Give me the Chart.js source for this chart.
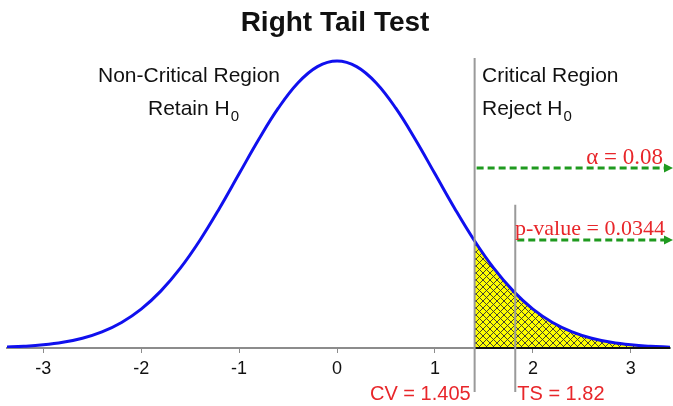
<!DOCTYPE html>
<html>
<head>
<meta charset="utf-8">
<title>Right Tail Test</title>
<script src="https://cdn.jsdelivr.net/npm/chart.js@4"></script>
<style>
  html, body { margin: 0; padding: 0; background: #fff; }
  #wrap { width: 673px; height: 406px; }
</style>
</head>
<body>
<div id="wrap"><canvas id="tailChart"></canvas></div>
<script>
// values
const xTicks = [-3, -2, -1, 0, 1, 2, 3];
const curveX = [-3.4, -3.2, -3.0, -2.8, -2.6, -2.4, -2.2, -2.0, -1.8, -1.6, -1.4, -1.2, -1.0, -0.8, -0.6, -0.4, -0.2,
    0, 0.2, 0.4, 0.6, 0.8, 1.0, 1.2, 1.4, 1.6, 1.8, 2.0, 2.2, 2.4, 2.6, 2.8, 3.0, 3.2, 3.4];
const curveY = [0.0012, 0.0024, 0.0044, 0.0079, 0.0136, 0.0224, 0.0355, 0.0540, 0.0790, 0.1109, 0.1497, 0.1942,
    0.2420, 0.2897, 0.3332, 0.3683, 0.3910, 0.3989, 0.3910, 0.3683, 0.3332, 0.2897, 0.2420, 0.1942, 0.1497,
    0.1109, 0.0790, 0.0540, 0.0355, 0.0224, 0.0136, 0.0079, 0.0044, 0.0024, 0.0012];
const tailX = [1.405, 1.6, 1.8, 2.0, 2.2, 2.4, 2.6, 2.8, 3.0, 3.2, 3.4];
const tailY = [0.1487, 0.1109, 0.0790, 0.0540, 0.0355, 0.0224, 0.0136, 0.0079, 0.0044, 0.0024, 0.0012];

const CV = 1.405;
const TS = 1.82;
const ALPHA = 0.08;
const PVALUE = 0.0344;
// heights (in density units) of the marker lines and arrows
const cvLineTop = 0.403;
const tsLineTop = 0.199;
const alphaArrowY = 0.25;
const pArrowY = 0.15;

const SANS = "'Liberation Sans', Arial, sans-serif";
const SERIF = "'Liberation Serif', 'Times New Roman', serif";
const RED = '#e8262a';
const GREEN = '#1f9a1f';

function makeHatch() {
    const c = document.createElement('canvas');
    c.width = 7;
    c.height = 7;
    const g = c.getContext('2d');
    g.fillStyle = '#ffff00';
    g.fillRect(0, 0, 7, 7);
    g.strokeStyle = '#333';
    g.lineWidth = 0.9;
    g.beginPath();
    g.moveTo(0, 0); g.lineTo(7, 7);
    g.moveTo(7, 0); g.lineTo(0, 7);
    g.stroke();
    return g.createPattern(c, 'repeat');
}

function toPoints(xs, ys) {
    return xs.map((x, i) => ({ x, y: ys[i] }));
}

function drawSubLabel(ctx, text, sub, x, y) {
    ctx.textAlign = 'left';
    ctx.textBaseline = 'alphabetic';
    ctx.font = '21px ' + SANS;
    ctx.fillText(text, x, y);
    const w = ctx.measureText(text).width;
    ctx.font = '15px ' + SANS;
    ctx.fillText(sub, x + w + 1, y + 6);
}

const annotations = {
    id: 'annotations',
    afterDatasetsDraw(chart) {
        const { ctx, scales: { x, y } } = chart;
        const base = y.getPixelForValue(0);
        ctx.save();

        // bottom edge of the shaded tail
        ctx.strokeStyle = '#111';
        ctx.lineWidth = 2;
        ctx.beginPath();
        ctx.moveTo(x.getPixelForValue(CV), base);
        ctx.lineTo(x.right, base);
        ctx.stroke();

        // CV and TS lines
        ctx.strokeStyle = '#9a9a9a';
        ctx.lineWidth = 2;
        ctx.beginPath();
        const cvx = x.getPixelForValue(CV);
        const tsx = x.getPixelForValue(TS);
        ctx.moveTo(cvx, y.getPixelForValue(cvLineTop));
        ctx.lineTo(cvx, 392);
        ctx.moveTo(tsx, y.getPixelForValue(tsLineTop));
        ctx.lineTo(tsx, 392);
        ctx.stroke();

        // dashed arrows
        const arrows = [[cvx, y.getPixelForValue(alphaArrowY)], [tsx, y.getPixelForValue(pArrowY)]];
        arrows.forEach(([x0, yy]) => {
            ctx.strokeStyle = GREEN;
            ctx.fillStyle = GREEN;
            ctx.lineWidth = 3;
            ctx.setLineDash([7, 4]);
            ctx.beginPath();
            ctx.moveTo(x0 + 2, yy);
            ctx.lineTo(665, yy);
            ctx.stroke();
            ctx.setLineDash([]);
            ctx.beginPath();
            ctx.moveTo(673, yy);
            ctx.lineTo(664, yy - 4.5);
            ctx.lineTo(664, yy + 4.5);
            ctx.closePath();
            ctx.fill();
        });

        // values in red
        ctx.fillStyle = RED;
        ctx.font = '23px ' + SERIF;
        ctx.textBaseline = 'alphabetic';
        ctx.textAlign = 'right';
        ctx.fillText('\u03b1 = ' + ALPHA, 663, 164);
        ctx.textAlign = 'left';
        ctx.font = '22px ' + SERIF;
        ctx.fillText('p-value = ' + PVALUE, 515, 235);

        ctx.font = '20px ' + SANS;
        ctx.textAlign = 'right';
        ctx.fillText('CV = ' + CV, cvx - 4, 400);
        ctx.textAlign = 'left';
        ctx.fillText('TS = ' + TS, tsx + 2, 400);

        // region labels
        ctx.fillStyle = '#111';
        ctx.font = '21px ' + SANS;
        ctx.textAlign = 'center';
        ctx.fillText('Non-Critical Region', 189, 82);
        drawSubLabel(ctx, 'Retain H', '0', 148, 115);
        ctx.font = '21px ' + SANS;
        ctx.textAlign = 'left';
        ctx.fillText('Critical Region', 482, 82);
        drawSubLabel(ctx, 'Reject H', '0', 482, 115);

        // title
        ctx.font = 'bold 28px ' + SANS;
        ctx.textAlign = 'center';
        ctx.textBaseline = 'middle';
        ctx.fillText('Right Tail Test', 335, 23);

        ctx.restore();
    }
};

window.addEventListener('load', () => {
    if (typeof Chart === 'undefined') {
        console.error('Chart.js not loaded');
        return;
    }
    const canvas = document.getElementById('tailChart');
    new Chart(canvas.getContext('2d'), {
        type: 'line',
        data: {
            datasets: [{
                data: toPoints(curveX, curveY),
                borderColor: '#1010ee',
                borderWidth: 3,
                pointRadius: 0,
                tension: 0.4,
                fill: false,
                order: 0
            }, {
                data: toPoints(tailX, tailY),
                borderWidth: 0,
                borderColor: 'rgba(0,0,0,0)',
                backgroundColor: makeHatch(),
                pointRadius: 0,
                tension: 0.4,
                fill: 'origin',
                order: 1
            }]
        },
        options: {
            responsive: true,
            maintainAspectRatio: false,
            animation: false,
            layout: { padding: { top: 45, left: 7, right: 3, bottom: 0 } },
            plugins: {
                legend: { display: false },
                title: { display: false },
                tooltip: { enabled: false }
            },
            scales: {
                x: {
                    type: 'linear',
                    min: -3.37,
                    max: 3.4,
                    afterBuildTicks: scale => { scale.ticks = xTicks.map(v => ({ value: v })); },
                    afterFit: scale => { scale.height = 58; },
                    border: { display: true, color: '#8c8c8c', width: 2 },
                    grid: { drawOnChartArea: false, drawTicks: true, tickLength: 5, tickColor: '#8c8c8c', tickWidth: 1 },
                    ticks: { color: '#111', font: { size: 18, family: SANS }, padding: 5, maxRotation: 0 }
                },
                y: {
                    display: false,
                    min: 0,
                    max: 0.421
                }
            }
        },
        plugins: [annotations]
    });
});
</script>
</body>
</html>
